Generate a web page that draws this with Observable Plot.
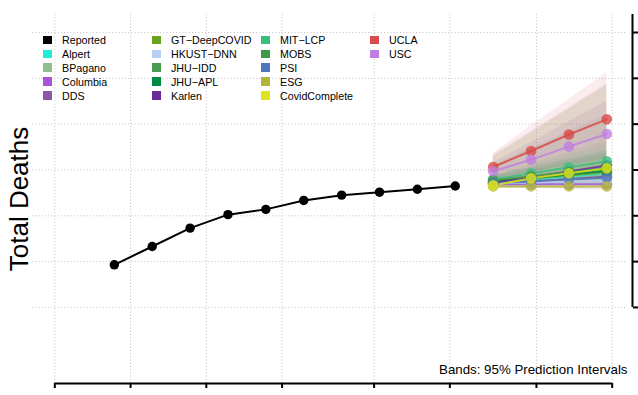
<!DOCTYPE html>
<html><head><meta charset="utf-8">
<script src="https://cdn.jsdelivr.net/npm/d3@7"></script>
<script src="https://cdn.jsdelivr.net/npm/@observablehq/plot@0.6"></script>
<style>
html,body{margin:0;padding:0;background:#fff;}
#wrap{position:relative;width:638px;height:395px;overflow:hidden;font-family:"Liberation Sans",Arial,Helvetica,sans-serif;}
.item{position:absolute;font-size:10.7px;line-height:12px;color:#000;white-space:nowrap;}
.sw{position:absolute;width:8.5px;height:8.5px;}
</style></head><body><div id="wrap"></div>
<script>
// ---- data ----
const reportedDates = ["2021-02-12","2021-02-19","2021-02-26","2021-03-05","2021-03-12","2021-03-19","2021-03-26","2021-04-02","2021-04-09","2021-04-16"];
const reportedDeaths = [5930, 6330, 6730, 7025, 7140, 7335, 7450, 7515, 7580, 7650];
const forecastDates = ["2021-04-23","2021-04-30","2021-05-07","2021-05-14"];
const models = ["Alpert","BPagano","Columbia","DDS","GT\u2212DeepCOVID","HKUST\u2212DNN","JHU\u2212IDD","JHU\u2212APL","Karlen","MIT\u2212LCP","MOBS","PSI","ESG","CovidComplete","UCLA","USC"];
const modelColors = ["#1EEED8","#8FBF8F","#A855D8","#8B58A8","#6AA31E","#B8CFF2","#4A9A50","#008A44","#6A2A96","#3DBD7C","#3F9A48","#4F76B8","#B1B53A","#DDE31C","#D94A4A","#C07FE0"];
const forecastMedian = [
  [7729, 7795, 7860, 7926],
  [7751, 7838, 7926, 8013],
  [7686, 7686, 7686, 7686],
  [7707, 7751, 7795, 7860],
  [7751, 7817, 7882, 7948],
  [7707, 7729, 7751, 7773],
  [7729, 7817, 7904, 7969],
  [7751, 7817, 7904, 7991],
  [7729, 7838, 7969, 8100],
  [7795, 7926, 8057, 8188],
  [7773, 7860, 7948, 8035],
  [7707, 7751, 7795, 7838],
  [7642, 7642, 7642, 7642],
  [7664, 7817, 7926, 8035],
  [8065, 8415, 8775, 9105],
  [7970, 8225, 8510, 8785]
];
const forecastLower = [
  [7640, 7650, 7660, 7670],
  [7670, 7700, 7720, 7740],
  [7620, 7600, 7580, 7560],
  [7640, 7650, 7660, 7680],
  [7680, 7710, 7740, 7760],
  [7660, 7660, 7665, 7670],
  [7600, 7620, 7640, 7650],
  [7680, 7700, 7720, 7740],
  [7650, 7680, 7720, 7760],
  [7730, 7800, 7870, 7940],
  [7700, 7740, 7780, 7810],
  [7640, 7650, 7660, 7670],
  [7600, 7590, 7580, 7570],
  [7620, 7700, 7760, 7820],
  [7800, 7950, 8100, 8250],
  [7750, 7850, 7950, 8050]
];
const forecastUpper = [
  [7860, 8090, 8330, 8560],
  [7880, 8120, 8380, 8640],
  [7790, 7880, 7960, 8040],
  [7800, 7920, 8050, 8180],
  [8300, 8810, 9330, 9850],
  [7770, 7820, 7870, 7920],
  [8100, 8470, 8840, 9200],
  [7850, 8000, 8180, 8360],
  [8150, 8600, 9050, 9500],
  [7870, 8060, 8250, 8440],
  [7880, 8050, 8230, 8410],
  [7790, 7880, 7970, 8060],
  [8300, 8820, 9340, 9870],
  [7720, 7950, 8100, 8260],
  [8362, 8970, 9540, 10131],
  [8330, 8850, 9370, 9890]
];
const xTickDates = ["2021-02-01","2021-02-15","2021-03-01","2021-03-15","2021-04-01","2021-04-15","2021-05-01","2021-05-15"];
const yTicks = [5000, 6000, 7000, 8000, 9000, 10000, 11000];
const legendNames = ["Reported", ...models];
const legendColors = ["#000000", ...modelColors];

// ---- build tables ----
const parse = s => new Date(s + "T00:00:00Z");
const DAY = 864e5;
const xTicks = xTickDates.map(parse);
const xDomain = [new Date(+xTicks[0] - 4.12 * DAY), new Date(+xTicks[xTicks.length - 1] + 3.75 * DAY)];
const yDomain = [3340, 11393];
const repRows = reportedDates.map((d, i) => ({date: parse(d), deaths: reportedDeaths[i]}));
const fcRows = [];
models.forEach((m, i) => forecastDates.forEach((d, j) => fcRows.push({
  model: m, date: parse(d), mean: forecastMedian[i][j], lo: forecastLower[i][j], hi: forecastUpper[i][j]
})));

const grid = {stroke: "#c0c0c0", strokeDasharray: "1,2.2", strokeWidth: 1};
const plot = Plot.plot({
  width: 638, height: 395,
  marginTop: 14, marginBottom: 12, marginLeft: 32, marginRight: 6,
  style: {fontFamily: "'Liberation Sans', Arial, sans-serif", background: "white", color: "black"},
  x: {type: "utc", domain: xDomain},
  y: {domain: yDomain},
  color: {domain: models, range: modelColors},
  marks: [
    Plot.ruleX(xTicks, grid),
    Plot.ruleY(yTicks, {...grid, insetRight: 6}),
    Plot.areaY(fcRows, {x: "date", y1: "lo", y2: "hi", z: "model", fill: "model", fillOpacity: 0.1}),
    Plot.line(fcRows, {x: "date", y: "mean", z: "model", stroke: "model", strokeWidth: 2, strokeOpacity: 0.85}),
    Plot.dot(fcRows, {x: "date", y: "mean", fill: "model", r: 5.3, fillOpacity: 0.8}),
    Plot.line(repRows, {x: "date", y: "deaths", stroke: "black", strokeWidth: 2}),
    Plot.dot(repRows, {x: "date", y: "deaths", fill: "black", r: 4.7}),
    Plot.ruleY([yDomain[0]], {x1: xTicks[0], x2: xTicks[xTicks.length - 1], strokeWidth: 2}),
    Plot.ruleX([xDomain[1]], {y1: yTicks[0], y2: yDomain[1], strokeWidth: 2}),
    Plot.axisX({ticks: xTicks, tickSize: 5, tickFormat: () => "", strokeWidth: 2, label: null}),
    Plot.axisY({anchor: "right", ticks: yTicks, tickSize: 5, tickFormat: () => "", strokeWidth: 2, label: null}),
    Plot.text(["Total Deaths"], {frameAnchor: "left", rotate: -90, dx: -13.3, fontSize: 26, textAnchor: "middle", lineAnchor: "middle", fill: "black"}),
    Plot.text(["Bands: 95% Prediction Intervals"], {frameAnchor: "bottom-right", dx: -5, dy: -13.7, fontSize: 13.3, textAnchor: "end", lineAnchor: "middle", fill: "black"})
  ]
});
const wrap = document.getElementById("wrap");
wrap.appendChild(plot);

// legend overlay
legendNames.forEach((name, i) => {
  const col = Math.floor(i / 5), row = i % 5;
  const left = 43 + 109 * col, cy = 40 + 13.85 * row;
  const sw = document.createElement("div");
  sw.className = "sw";
  sw.style.left = left + "px";
  sw.style.top = (cy - 4.25) + "px";
  sw.style.background = legendColors[i];
  wrap.appendChild(sw);
  const t = document.createElement("div");
  t.className = "item";
  t.style.left = (left + 19) + "px";
  t.style.top = (cy - 5.9) + "px";
  t.textContent = name;
  wrap.appendChild(t);
});
</script></body></html>
